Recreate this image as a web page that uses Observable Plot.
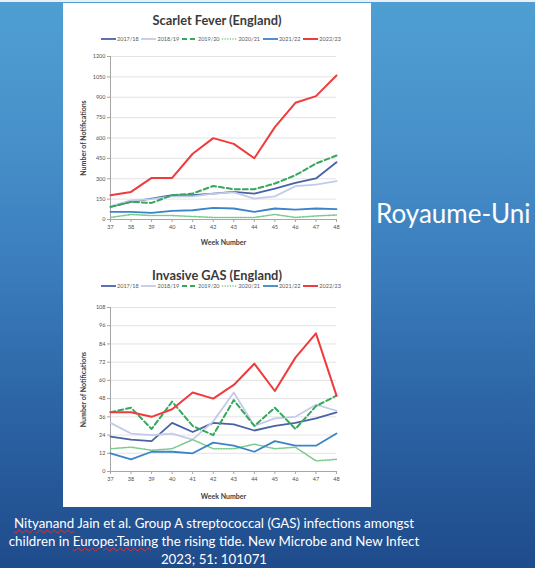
<!DOCTYPE html>
<html>
<head>
<meta charset="utf-8">
<script src="https://cdn.jsdelivr.net/npm/d3@7"></script>
<script src="https://cdn.jsdelivr.net/npm/@observablehq/plot@0.6"></script>
<style>
  html, body { margin: 0; padding: 0; }
  body {
    width: 535px; height: 568px; overflow: hidden; position: relative;
    background: linear-gradient(to bottom, #4f9fd3 0%, #4790c9 25%, #3c7fbf 45%, #2d66a7 70%, #1f4b8b 100%);
    font-family: Lato, "Open Sans", sans-serif;
  }
  #topstrip { position: absolute; left: 0; top: 0; width: 535px; height: 2px; background: #e9eff5; }
  #panel { position: absolute; left: 63px; top: 3px; width: 308px; height: 504px; background: #fff; }
  .title { position: absolute; left: 0; width: 308px; text-align: center; font-weight: bold; font-size: 12.8px; color: #3a3a3a; font-family: Lato, sans-serif; }
  .legend { position: absolute; left: 38px; width: 240px; display: flex; justify-content: space-between; align-items: center; font-size: 5.5px; color: #595959; }
  .legend span.item { display: flex; align-items: center; gap: 1px; }
  .chartbox { position: absolute; left: 0; }
  .chartbox svg { display: block; }
  #royaume { position: absolute; left: 376px; top: 197px; color: #fff; font-size: 26px; font-family: Lato, sans-serif; white-space: nowrap; }
  #caption { position: absolute; left: 0px; width: 428px; top: 514px; text-align: center; color: #fff; font-size: 13.3px; line-height: 18px; font-family: Lato, sans-serif; }
  .sp { text-decoration: underline wavy #e03030; text-decoration-thickness: 1px; }
</style>
</head>
<body>
<div id="topstrip"></div>
<div id="panel">
  <div class="title" style="top:9px">Scarlet Fever (England)</div>
  <div class="legend" id="leg1" style="top:33px"></div>
  <div class="chartbox" id="c1" style="top:47px"></div>
  <div class="title" style="top:264px">Invasive GAS (England)</div>
  <div class="legend" id="leg2" style="top:280px"></div>
  <div class="chartbox" id="c2" style="top:298px"></div>
</div>
<div id="royaume">Royaume-Uni</div>
<div id="caption"><span class="sp">Nityanand</span> Jain et al. Group A streptococcal (GAS) infections amongst<br>children in <span class="sp">Europe:Taming</span> the rising tide. New Microbe and New Infect<br>2023; 51: 101071</div>
<script>
const weeks = [37, 38, 39, 40, 41, 42, 43, 44, 45, 46, 47, 48];
const seasons = ["2017/18", "2018/19", "2019/20", "2020/21", "2021/22", "2022/23"];

// Scarlet Fever (England) weekly notifications
const sf1718 = [93, 130, 154, 179, 179, 191, 203, 191, 227, 269, 302, 422];
const sf1819 = [97, 140, 150, 170, 170, 190, 200, 154, 170, 245, 257, 282];
const sf1920 = [93, 130, 122, 179, 191, 247, 223, 223, 265, 326, 412, 471];
const sf2021 = [15, 37, 29, 29, 22, 15, 15, 15, 37, 15, 26, 33];
const sf2122 = [56, 56, 49, 64, 68, 85, 81, 56, 81, 73, 81, 76];
const sf2223 = [179, 203, 306, 306, 484, 599, 557, 451, 680, 859, 908, 1060];
const sfTicks = [0, 150, 300, 450, 600, 750, 900, 1050, 1200];

// Invasive GAS (England) weekly notifications
const ig1718 = [23, 21, 20, 32, 26, 32, 31, 27, 30, 32, 35, 39];
const ig1819 = [32, 25, 24, 25, 21, 33, 52, 30, 35, 36, 44, 40];
const ig1920 = [39, 42, 28, 46, 30, 24, 47, 30, 42, 28, 43, 50];
const ig2021 = [15, 16, 14, 15, 21, 15, 15, 18, 15, 16, 7, 8];
const ig2122 = [12, 8, 13, 13, 12, 19, 17, 13, 20, 17, 17, 25];
const ig2223 = [39, 39, 36, 41, 52, 48, 57, 71, 53, 75, 91, 50];
const igTicks = [0, 12, 24, 36, 48, 60, 72, 84, 96, 108];

const colors = ["#4862a6", "#c3cbe8", "#36a85c", "#7ccb8d", "#3b84c8", "#ef3b3e"];
const dashes = [null, null, "5,3", "1.2,1.4", null, null];
const widths = [1.8, 1.8, 2, 1.6, 1.8, 2];

function legend(id) {
  const el = document.getElementById(id);
  seasons.forEach((s, i) => {
    const item = document.createElement("span");
    item.className = "item";
    item.innerHTML = `<svg width="15" height="4"><line x1="0" y1="2" x2="15" y2="2" stroke="${colors[i]}" stroke-width="${widths[i]}" ${dashes[i] ? `stroke-dasharray="${dashes[i]}"` : ""}/></svg><span>${s}</span>`;
    el.appendChild(item);
  });
}

const labelStyle = {fontSize: 7, fontWeight: "bold", fill: "#404040"};

function chart(id, series, ticks, height, mt, mb, xOff, yOff) {
  const data = seasons.flatMap((s, i) => weeks.map((w, j) => ({week: w, value: series[i][j], season: s})));
  const p = Plot.plot({
    width: 308, height,
    marginLeft: 47, marginRight: 35, marginTop: mt, marginBottom: mb,
    style: {fontSize: "5.5px", fontFamily: "Lato, sans-serif", color: "#505050", background: "white", overflow: "visible"},
    x: {domain: [weeks[0], weeks[weeks.length - 1]]},
    y: {domain: [ticks[0], ticks[ticks.length - 1]]},
    marks: [
      Plot.gridY(ticks, {stroke: "#dcdcdc", strokeOpacity: 1, strokeWidth: 0.8}),
      Plot.ruleX([weeks[0]], {stroke: "#a6a6a6"}),
      Plot.ruleY([ticks[0]], {stroke: "#a6a6a6"}),
      Plot.axisY(ticks, {tickSize: 3, stroke: "#a6a6a6", tickPadding: 2, tickFormat: d => String(d), label: null}),
      Plot.axisY({label: "Number of Notifications", labelAnchor: "center", labelArrow: "none", labelOffset: yOff, ticks: [], tickSize: 0, ...labelStyle}),
      Plot.axisX(weeks, {tickSize: 3, stroke: "#a6a6a6", tickPadding: 3, tickFormat: d => String(d), label: null}),
      Plot.axisX({label: "Week Number", labelAnchor: "center", labelArrow: "none", labelOffset: xOff, ticks: [], tickSize: 0, ...labelStyle}),
      ...seasons.map((s, i) => Plot.line(data.filter(d => d.season === s), {
        x: "week", y: "value", stroke: colors[i], strokeWidth: widths[i],
        strokeDasharray: dashes[i] || undefined, strokeLinejoin: "round"
      }))
    ]
  });
  document.getElementById(id).appendChild(p);
}

legend("leg1");
legend("leg2");
chart("c1", [sf1718, sf1819, sf1920, sf2021, sf2122, sf2223], sfTicks, 198, 6, 29, 25, 29);
chart("c2", [ig1718, ig1819, ig1920, ig2021, ig2122, ig2223], igTicks, 202, 6, 32, 27, 29);
</script>
</body>
</html>
